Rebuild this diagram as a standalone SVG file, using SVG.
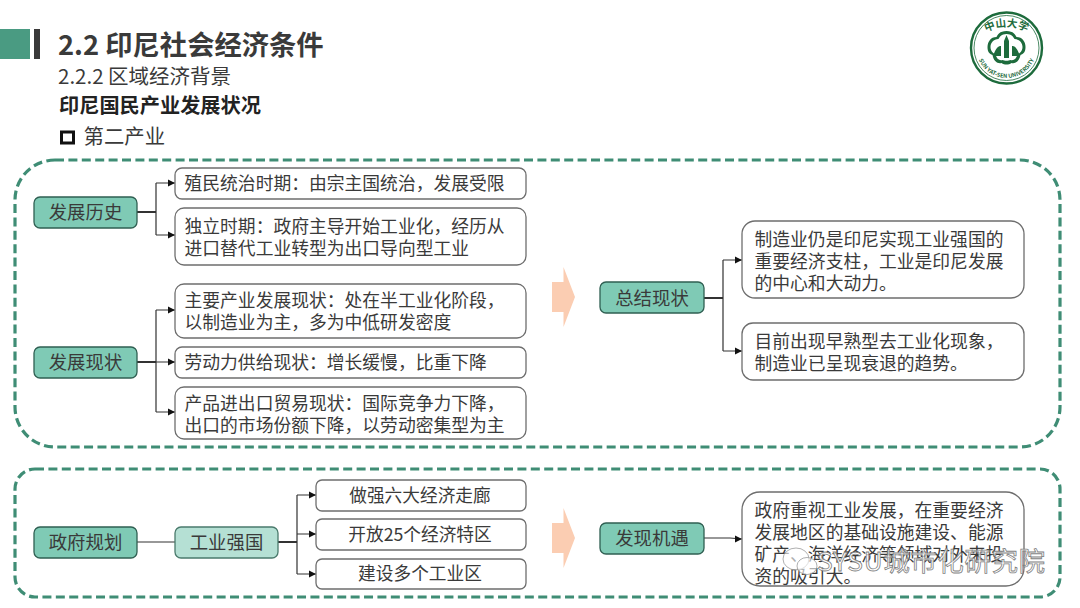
<svg xmlns="http://www.w3.org/2000/svg" width="1080" height="608" viewBox="0 0 1080 608">
<style>
text{font-family:"Noto Sans CJK SC","Noto Sans",sans-serif;fill:#3a3a3a}
.t{font-size:17.8px}
.c{font-size:17.7px;text-anchor:middle}
.n{font-size:18.4px;text-anchor:middle}
.b{fill:#fff;stroke:#6e6e6e;stroke-width:1.3}
.g{fill:#7fcab5;stroke:#2f5f52;stroke-width:1.3}
.l{fill:#b5e0d4;stroke:#4a7a6c;stroke-width:1.3}
.dash{fill:none;stroke:#3f8d75;stroke-width:3.2;stroke-dasharray:9 4.4}
.w{fill:none;stroke:#333;stroke-width:1.2}
.h{fill:none;stroke:#333;stroke-width:2}
.a{fill:#111;stroke:none}
.arrow{fill:#fbcdb2;stroke:none}
.lg{fill:#1d6b3c;font-weight:700}
</style>
<defs>
<path id="logoTop" d="M983 34A42 42 0 0 1 1030 34"/>
<path id="logoBottom" d="M978.300 37.700A30 30 0 1 0 1034.700 37.700"/>
</defs>
<rect width="1080" height="608" fill="#fff"/>
<g id="header">
<rect x="0" y="29" width="30" height="30" fill="#4a9b82"/>
<rect x="34" y="29" width="6" height="30" fill="#3a3a3a"/>
<text x="58" y="55" style="font-size:27.300px;font-weight:700">2.2 印尼社会经济条件</text>
<text x="58" y="84" style="font-size:20.500px">2.2.2 区域经济背景</text>
<text x="59" y="113" style="font-size:20.200px;font-weight:700;fill:#222">印尼国民产业发展状况</text>
<rect x="61.500" y="132" width="12" height="11" fill="none" stroke="#111" stroke-width="3"/>
<text x="83.500" y="144" style="font-size:20.400px">第二产业</text>
</g>
<g id="logo">
<circle cx="1006.500" cy="48" r="35.500" fill="#fff" stroke="#1d6b3c" stroke-width="2.4"/>
<circle cx="1006.500" cy="48" r="32.500" fill="none" stroke="#1d6b3c" stroke-width=".8"/>
<text class="lg" style="font-size:10.500px" text-anchor="middle"><textPath href="#logoTop" startOffset="50%">中山大学</textPath></text>
<text class="lg" style="font-size:5.600px" text-anchor="middle"><textPath href="#logoBottom" startOffset="50%">SUN YAT-SEN UNIVERSITY</textPath></text>
<path d="M1006.500 31c7 0 9 4 10 6 6 0 9 5 9 10 0 5-2 7-5 8-1 6-5 9-9 8-3 2-7 2-10 0-4 1-8-2-9-8-3-1-5-3-5-8 0-5 3-10 9-10 1-2 3-6 10-6z" fill="#1d6b3c"/>
<path d="M1006.500 34c5 0 7 3 8 5 5 0 8 4 8 8 0 4-3 7-5 7-1 5-4 7-7 6-2 1-6 1-8 0-3 1-6-1-7-6-2 0-5-3-5-7 0-4 3-8 8-8 1-2 3-5 8-5z" fill="#fff"/>
<path d="M1004 58V41L1006.500 35L1009 41V58z" fill="#1d6b3c"/>
<path d="M993 56c3-8 5-10 8-10V56zM1020 56c-3-8-5-10-8-10V56z" fill="#1d6b3c"/>
</g>
<g id="frames">
<rect class="dash" x="15" y="160" width="1045" height="287" rx="40"/>
<rect class="dash" x="15" y="469" width="1045" height="128" rx="20"/>
</g>
<g id="connectors">
<path class="h" d="M137 212H156"/>
<path class="w" d="M156 183V235M156 183H175M156 235H175" />
<path class="a" d="M168 179.500L175 183L168 186.500zM168 231.500L175 235L168 238.500z"/>
<path class="h" d="M137 362H156"/>
<path class="w" d="M156 310V412M156 310H175M156 362H175M156 412H175"/>
<path class="a" d="M168 306.500L175 310L168 313.500zM168 358.500L175 362L168 365.500zM168 408.500L175 412L168 415.500z"/>
<path class="h" d="M704 298H723"/>
<path class="w" d="M723 260V351M723 260H742M723 351H742"/>
<path class="a" d="M735 256.500L742 260L735 263.500zM735 347.500L742 351L735 354.500z"/>
<path class="w" d="M137 542H175"/>
<path class="h" d="M278 542H297"/>
<path class="w" d="M297 495V574M297 495H316M297 534H316M297 574H316"/>
<path class="a" d="M309 491.500L316 495L309 498.500zM309 530.500L316 534L309 537.500zM309 570.500L316 574L309 577.500z"/>
<path class="w" d="M704 538H730L742 539"/>
<path class="a" d="M735 535.500L742 539L735 542.500z"/>
</g>
<g id="arrows">
<path class="arrow" d="M552 282H563.500V267L575 297L563.500 327V312H552z"/>
<path class="arrow" d="M552 523H563.500V508L575 538L563.500 568V553H552z"/>
</g>
<g id="n-history"><rect class="g" x="34" y="197" width="103" height="31" rx="6"/><text class="n" x="85.500" y="219">发展历史</text></g>
<g id="n-current"><rect class="g" x="34" y="347" width="103" height="31" rx="6"/><text class="n" x="85.500" y="369">发展现状</text></g>
<g id="n-summary"><rect class="g" x="600" y="282" width="104" height="31" rx="6"/><text class="n" x="652" y="304.500">总结现状</text></g>
<g id="n-plan"><rect class="g" x="34" y="527" width="103" height="31" rx="6"/><text class="n" x="85.500" y="549">政府规划</text></g>
<g id="n-strong"><rect class="l" x="175" y="527" width="103" height="31" rx="6"/><text class="n" x="226.500" y="549">工业强国</text></g>
<g id="n-opportunity"><rect class="g" x="600" y="523" width="104" height="31" rx="6"/><text class="n" x="652" y="545">发现机遇</text></g>
<g id="b1"><rect class="b" x="175" y="168" width="351" height="31" rx="7"/><text class="t" x="184.500" y="189.500">殖民统治时期：由宗主国统治，发展受限</text></g>
<g id="b2"><rect class="b" x="175" y="208" width="351" height="57" rx="9"/><text class="t"><tspan x="184.500" y="232.500">独立时期：政府主导开始工业化，经历从</tspan><tspan x="184.500" y="254.500">进口替代工业转型为出口导向型工业</tspan></text></g>
<g id="b3"><rect class="b" x="175" y="284" width="351" height="54" rx="9"/><text class="t"><tspan x="184.500" y="307">主要产业发展现状：处在半工业化阶段，</tspan><tspan x="184.500" y="329">以制造业为主，多为中低研发密度</tspan></text></g>
<g id="b4"><rect class="b" x="175" y="347" width="351" height="31" rx="7"/><text class="t" x="184.500" y="368.500">劳动力供给现状：增长缓慢，比重下降</text></g>
<g id="b5"><rect class="b" x="175" y="387" width="351" height="52" rx="9"/><text class="t"><tspan x="184.500" y="409.500">产品进出口贸易现状：国际竞争力下降，</tspan><tspan x="184.500" y="432">出口的市场份额下降，以劳动密集型为主</tspan></text></g>
<g id="b6"><rect class="b" x="742" y="221" width="282" height="77" rx="13"/><text class="t"><tspan x="754.500" y="245.500">制造业仍是印尼实现工业强国的</tspan><tspan x="754.500" y="267.500">重要经济支柱，工业是印尼发展</tspan><tspan x="754.500" y="290">的中心和大动力。</tspan></text></g>
<g id="b7"><rect class="b" x="742" y="323" width="282" height="57" rx="11"/><text class="t"><tspan x="754.500" y="348">目前出现早熟型去工业化现象，</tspan><tspan x="754.500" y="370">制造业已呈现衰退的趋势。</tspan></text></g>
<g id="b8"><rect class="b" x="316" y="480" width="210" height="31" rx="6"/><text class="c" x="420" y="501.500">做强六大经济走廊</text></g>
<g id="b9"><rect class="b" x="316" y="519" width="210" height="31" rx="6"/><text class="c" x="420" y="541">开放25个经济特区</text></g>
<g id="b10"><rect class="b" x="316" y="559" width="210" height="30" rx="6"/><text class="c" x="420" y="580">建设多个工业区</text></g>
<g id="b11"><rect class="b" x="742" y="492" width="282" height="94" rx="18"/><text class="t"><tspan x="754.500" y="516.500">政府重视工业发展，在重要经济</tspan><tspan x="754.500" y="539">发展地区的基础设施建设、能源</tspan><tspan x="754.500" y="561">矿产、海洋经济等领域对外来投</tspan><tspan x="754.500" y="583">资的吸引大。</tspan></text></g>
<g id="watermark">
<ellipse cx="796" cy="559" rx="13" ry="11" fill="#fff" fill-opacity=".6" stroke="#9a9a9a" stroke-width=".8"/>
<ellipse cx="807" cy="566" rx="10" ry="8.500" fill="#fff" fill-opacity=".6" stroke="#9a9a9a" stroke-width=".8"/>
<text x="817" y="571" textLength="228" style="font-size:26.300px;fill:#fff;stroke:#7f7f7f;stroke-width:.8;fill-opacity:.75">SYSU城市化研究院</text>
</g>
</svg>
